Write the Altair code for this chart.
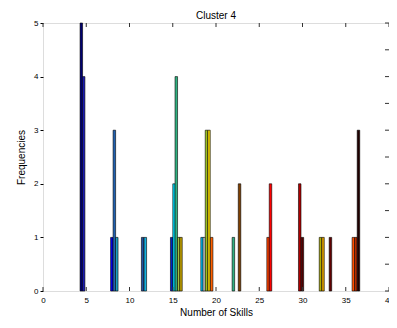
import altair as alt
import pandas as pd

# Bar data
skills = [4.43, 4.70, 7.96, 8.25, 8.53, 11.52, 11.83,
          14.88, 15.15, 15.41, 15.69, 15.95,
          18.39, 18.64, 18.90, 19.19, 19.50,
          22.01, 22.72, 26.02, 26.30, 29.68, 29.99,
          32.08, 32.37, 33.23, 35.88, 36.17, 36.47]
freqs = [5, 4, 1, 3, 1, 1, 1,
         1, 2, 4, 1, 1,
         1, 1, 3, 3, 1,
         1, 2, 1, 2, 2, 1,
         1, 1, 1, 1, 1, 3]
series = [f"b{i:02d}" for i in range(len(skills))]

x_ticks = [0, 5, 10, 15, 20, 25, 30, 35, 40]
y_ticks = [0, 0.5, 1, 1.5, 2, 2.5, 3, 3.5, 4, 4.5, 5]

# styles
bar_colors = ["#00006f", "#1a1ab0", "#0000f0", "#2060b0", "#20a0c0", "#2050a0", "#10b0e0",
              "#0020c0", "#00d8f8", "#30b080", "#a0c040", "#c0a000",
              "#00c0f8", "#c8c8c8", "#98c020", "#f0d000", "#ff6000",
              "#30b080", "#804000", "#ff4000", "#ff0000", "#b00000", "#500000",
              "#b0b000", "#e0a000", "#600000", "#ff5000", "#c03000", "#200000"]
half_w = 0.145
FONT = "Liberation Sans"
W, H = 346, 268

bars = pd.DataFrame({"skills": skills, "freq": freqs, "series": series})
bars["x0"] = bars["skills"] - half_w
bars["x1"] = bars["skills"] + half_w

xs = alt.Scale(domain=[0, 40], nice=False, zero=False)
ys = alt.Scale(domain=[0, 5], nice=False)

bar_layer = alt.Chart(bars).mark_bar(stroke="black", strokeWidth=0.6, opacity=1).encode(
    x=alt.X("x0:Q", scale=xs,
            axis=alt.Axis(values=x_ticks, title="Number of Skills", ticks=False, domain=False,
                          grid=False, labelFont=FONT, labelFontSize=8, labelColor="black",
                          labelPadding=5, titleFont=FONT, titleFontSize=10,
                          titleFontWeight="normal", titleColor="black", titlePadding=3,
                          labelFlush=False)),
    x2="x1:Q",
    y=alt.Y("freq:Q", scale=ys,
            axis=alt.Axis(values=y_ticks, title="Frequencies", tickSize=3, tickColor="black",
                          domain=False, grid=False, labelFont=FONT, labelFontSize=8,
                          labelColor="black", labelPadding=2, titleFont=FONT, titleFontSize=10,
                          titleFontWeight="normal", titleColor="black", titlePadding=7,
                          labelFlush=False)),
    y2=alt.datum(0),
    color=alt.Color("series:N", scale=alt.Scale(domain=series, range=bar_colors), legend=None),
)

xt = pd.DataFrame({"t": x_ticks})
yt = pd.DataFrame({"t": y_ticks})

xb = alt.Chart(xt).mark_rule(color="#333333", strokeWidth=1).encode(
    x=alt.X("t:Q", scale=xs), y=alt.value(H), y2=alt.value(H - 4))
xtop = alt.Chart(xt).mark_rule(color="#333333", strokeWidth=1).encode(
    x=alt.X("t:Q", scale=xs), y=alt.value(0), y2=alt.value(4))
yr = alt.Chart(yt).mark_rule(color="#333333", strokeWidth=1).encode(
    y=alt.Y("t:Q", scale=ys), x=alt.value(W), x2=alt.value(W - 4))

chart = alt.layer(bar_layer, xb, xtop, yr).properties(
    width=W, height=H,
    title=alt.TitleParams("Cluster 4", font=FONT, fontSize=10, fontWeight="normal",
                          color="black", offset=-2, frame="group"),
    padding={"left": 35, "top": 15, "right": 0, "bottom": 29},
    autosize=alt.AutoSizeParams(type="none"),
).configure_view(stroke="black", strokeWidth=1).configure(background="white")

chart.save("out.html", embed_options={"renderer": "svg", "actions": False})
